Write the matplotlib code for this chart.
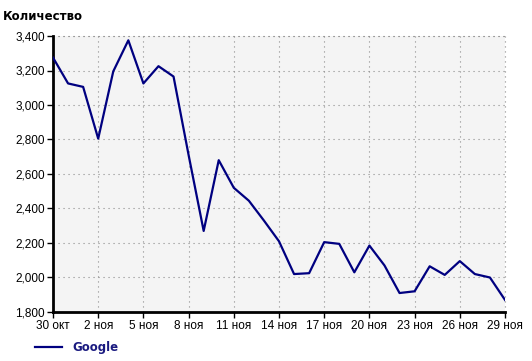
import matplotlib
matplotlib.use('Agg')
import matplotlib.pyplot as plt
import numpy as np

# daily counts, 30 окт .. 29 ноя
days = list(range(31))
google = [3275, 3125, 3105, 2805, 3195, 3375, 3125, 3225, 3165, 2710,
          2270, 2680, 2520, 2445, 2330, 2210, 2020, 2025, 2205, 2195,
          2030, 2185, 2070, 1910, 1920, 2065, 2015, 2095, 2020, 2000,
          1870]
tick_days = [0, 3, 6, 9, 12, 15, 18, 21, 24, 27, 30]
tick_labels = ['30 окт', '2 ноя', '5 ноя', '8 ноя', '11 ноя', '14 ноя',
               '17 ноя', '20 ноя', '23 ноя', '26 ноя', '29 ноя']
y_ticks = [1800, 2000, 2200, 2400, 2600, 2800, 3000, 3200, 3400]

plt.rcParams['font.family'] = ['Liberation Sans', 'DejaVu Sans']

fig = plt.figure(figsize=(5.32, 3.61), dpi=100)
ax = fig.add_axes([53 / 532, 1 - 312 / 361, (505 - 53) / 532, (312 - 36) / 361])
ax.set_facecolor('#f4f4f4')

ax.plot(days, google, color='#000080', lw=1.6, label='Google', zorder=3)

ax.set_xlim(0, 30)
ax.set_ylim(1800, 3400)
ax.set_xticks(tick_days)
ax.set_xticklabels(tick_labels)
ax.set_yticks(y_ticks)
ax.set_yticklabels([f'{v:,}' for v in y_ticks])
ax.tick_params(labelsize=8.5, length=4, width=1, color='black', pad=2)

dots = (0, (1, 3.5))
ax.grid(True, linestyle=dots, color='#8c8c8c', lw=0.8)
for side in ['top', 'right']:
    ax.spines[side].set_visible(False)
for side in ['left', 'bottom']:
    ax.spines[side].set_linewidth(2)
# dotted frame at top and right edge
ax.axhline(3400, linestyle=dots, color='#8c8c8c', lw=0.8, clip_on=False)
ax.axvline(30, linestyle=dots, color='#8c8c8c', lw=0.8, clip_on=False)

fig.text(3 / 532, 1 - 17 / 361, 'Количество', fontsize=8.5, fontweight='bold',
         family='DejaVu Sans', va='center', ha='left')

leg = fig.legend(loc='center left', bbox_to_anchor=(35 / 532, 1 - 348 / 361),
                 frameon=False, borderpad=0, borderaxespad=0,
                 handlelength=2.3, handletextpad=0.9,
                 prop={'weight': 'bold', 'size': 8.5, 'family': 'DejaVu Sans'})
for t in leg.get_texts():
    t.set_color('#1a1a80')

fig.savefig('out.png', dpi=100)
